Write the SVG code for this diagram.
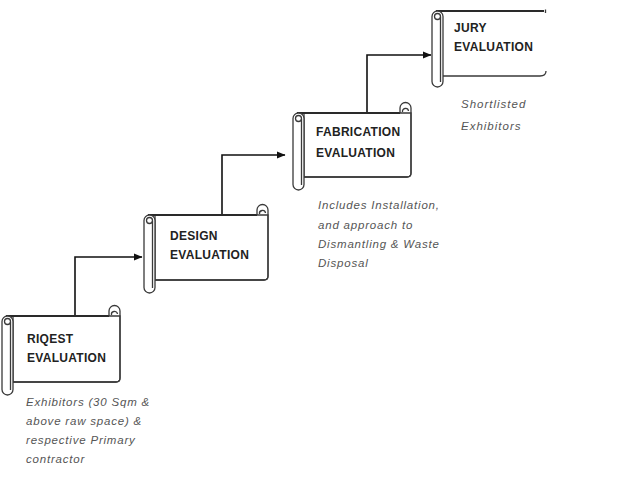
<svg xmlns="http://www.w3.org/2000/svg" width="623" height="477" viewBox="0 0 623 477">
<defs>
<marker id="arr" markerUnits="userSpaceOnUse" markerWidth="9" markerHeight="8" refX="8" refY="4" orient="auto">
<path d="M0,0.5 L8.5,4 L0,7.5 z" fill="#111"/>
</marker>
<style>
.sc{fill:#fff;stroke:#3a3a3a;stroke-width:1.3}
.ln{fill:none;stroke:#3a3a3a;stroke-width:1.3}
.top{fill:none;stroke:#2a2a2a;stroke-width:1.8}
.lb{font-family:"Liberation Sans",Arial,sans-serif;font-weight:bold;font-size:12px;fill:#222;letter-spacing:0.3px}
.cp{font-family:"Liberation Sans",Arial,sans-serif;font-style:italic;font-size:11.5px;fill:#555;letter-spacing:0.8px}
.cn{fill:none;stroke:#111;stroke-width:1.6}
</style>
</defs>
<rect width="623" height="477" fill="#fff"/>

<g id="connectors">
<path class="cn" d="M75 316 V257 H142" marker-end="url(#arr)"/>
<path class="cn" d="M222 215 V155 H285" marker-end="url(#arr)"/>
<path class="cn" d="M367 113 V55 H431" marker-end="url(#arr)"/>
</g>

<g id="riqest">
<path class="sc" d="M13 316 H120 V378 Q120 382 116 382 H13 Z"/>
<path class="top" d="M6 316 H109"/>
<path class="ln" d="M109 316 V311 A5.5 5.5 0 0 1 120 311 V378 Q120 382 116 382 H13"/>
<path class="ln" d="M111.5 315 A3 3 0 0 1 117.5 314"/>
<rect class="sc" x="2" y="316" width="11" height="79" rx="5.5"/>
<path class="ln" d="M10.5 322 V390"/>
<circle class="ln" cx="7.5" cy="321.5" r="3"/>
<text class="lb" x="27" y="343">RIQEST</text>
<text class="lb" x="27" y="362">EVALUATION</text>
<text class="cp" x="26" y="406">Exhibitors (30 Sqm &amp;</text>
<text class="cp" x="26" y="425">above raw space) &amp;</text>
<text class="cp" x="26" y="444">respective Primary</text>
<text class="cp" x="26" y="463">contractor</text>
</g>

<g id="design">
<path class="sc" d="M155 215 H268 V276 Q268 280 264 280 H155 Z"/>
<path class="top" d="M148 215 H257"/>
<path class="ln" d="M257 215 V210 A5.5 5.5 0 0 1 268 210 V276 Q268 280 264 280 H155"/>
<path class="ln" d="M259.5 214 A3 3 0 0 1 265.5 213"/>
<rect class="sc" x="144" y="215" width="11" height="78" rx="5.5"/>
<path class="ln" d="M152.5 221 V288"/>
<circle class="ln" cx="149.5" cy="220.5" r="3"/>
<text class="lb" x="170" y="240">DESIGN</text>
<text class="lb" x="170" y="259">EVALUATION</text>
</g>

<g id="fabrication">
<path class="sc" d="M304 113 H411 V173 Q411 177 407 177 H304 Z"/>
<path class="top" d="M297 113 H400"/>
<path class="ln" d="M400 113 V108 A5.5 5.5 0 0 1 411 108 V173 Q411 177 407 177 H304"/>
<path class="ln" d="M402.5 112 A3 3 0 0 1 408.5 111"/>
<rect class="sc" x="293" y="113" width="11" height="77" rx="5.5"/>
<path class="ln" d="M301.5 119 V185"/>
<circle class="ln" cx="298.5" cy="118.5" r="3"/>
<text class="lb" x="316" y="136">FABRICATION</text>
<text class="lb" x="316" y="157">EVALUATION</text>
<text class="cp" x="318" y="209">Includes Installation,</text>
<text class="cp" x="318" y="229">and approach to</text>
<text class="cp" x="318" y="248">Dismantling &amp; Waste</text>
<text class="cp" x="318" y="267">Disposal</text>
</g>

<g id="jury">
<path d="M443 11 H546 V76 H443 Z" fill="#fff"/>
<path class="top" d="M436 11 H544"/>
<path class="ln" d="M545.5 9.5 V13"/>
<path class="ln" d="M443 76 H540 Q546 76 546 71"/>
<rect class="sc" x="432" y="11" width="11" height="76" rx="5.5"/>
<path class="ln" d="M440.5 17 V82"/>
<circle class="ln" cx="437.5" cy="16.5" r="3"/>
<text class="lb" x="454" y="32">JURY</text>
<text class="lb" x="454" y="51">EVALUATION</text>
<text class="cp" x="461" y="108" style="letter-spacing:1px">Shortlisted</text>
<text class="cp" x="461" y="130" style="letter-spacing:1px">Exhibitors</text>
</g>
</svg>
